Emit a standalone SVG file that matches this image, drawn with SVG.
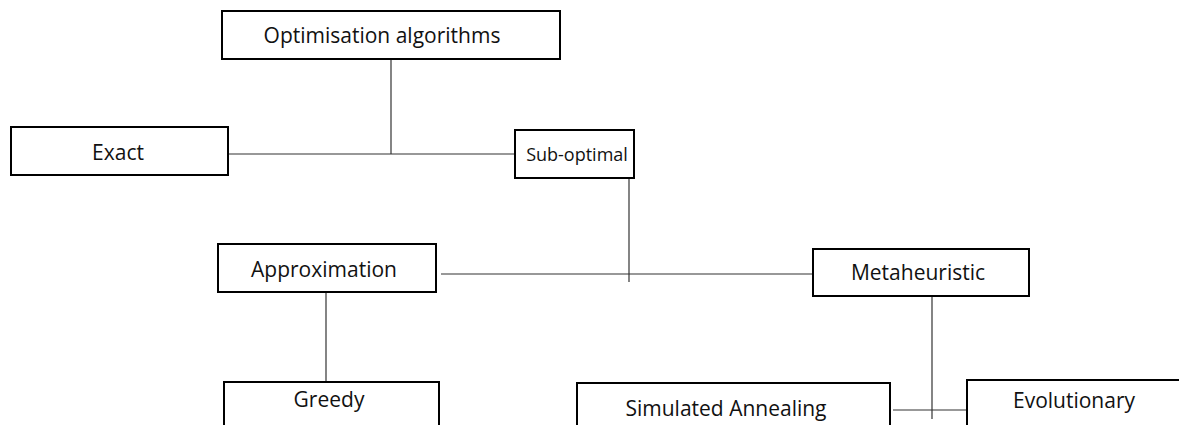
<svg xmlns="http://www.w3.org/2000/svg" width="1179" height="425" viewBox="0 0 1179 425">
  <style>
    .box { fill: #ffffff; stroke: #000000; stroke-width: 2; }
    .lbl { font-family: "Open Sans", "Liberation Sans", sans-serif; font-size: 21px; fill: #111111; text-anchor: middle; }
    .narrow { font-size: 18px; }
    .link { stroke: #333333; stroke-width: 1.2; fill: none; }
  </style>
  <rect width="1179" height="425" fill="#ffffff"/>

  <!-- connectors -->
  <g id="connectors">
    <line class="link" x1="391" y1="59" x2="391" y2="154"/>
    <line class="link" x1="228" y1="154" x2="515" y2="154"/>
    <line class="link" x1="629" y1="178" x2="629" y2="282"/>
    <line class="link" x1="441" y1="274" x2="813" y2="274"/>
    <line class="link" x1="326" y1="292" x2="326" y2="382"/>
    <line class="link" x1="932" y1="296" x2="932" y2="419"/>
    <line class="link" x1="893" y1="410" x2="967" y2="410"/>
  </g>

  <g id="node-optimisation">
    <rect class="box" x="222" y="11" width="338" height="48"/>
    <text class="lbl" x="382" y="43">Optimisation algorithms</text>
  </g>

  <g id="node-exact">
    <rect class="box" x="11" y="127" width="217" height="48"/>
    <text class="lbl" x="118" y="160">Exact</text>
  </g>

  <g id="node-suboptimal">
    <rect class="box" x="515" y="130" width="119" height="48"/>
    <text class="lbl narrow" x="577" y="161">Sub-optimal</text>
  </g>

  <g id="node-approximation">
    <rect class="box" x="218" y="244" width="218" height="48"/>
    <text class="lbl" x="324" y="277">Approximation</text>
  </g>

  <g id="node-metaheuristic">
    <rect class="box" x="813" y="249" width="216" height="47"/>
    <text class="lbl" x="918" y="280">Metaheuristic</text>
  </g>

  <g id="node-greedy">
    <rect class="box" x="224" y="382" width="215" height="60"/>
    <text class="lbl" x="329" y="407">Greedy</text>
  </g>

  <g id="node-simulated-annealing">
    <rect class="box" x="577" y="383" width="313" height="60"/>
    <text class="lbl" x="726" y="416">Simulated Annealing</text>
  </g>

  <g id="node-evolutionary">
    <rect class="box" x="967" y="380" width="230" height="60"/>
    <text class="lbl" x="1074" y="408">Evolutionary</text>
  </g>
</svg>
